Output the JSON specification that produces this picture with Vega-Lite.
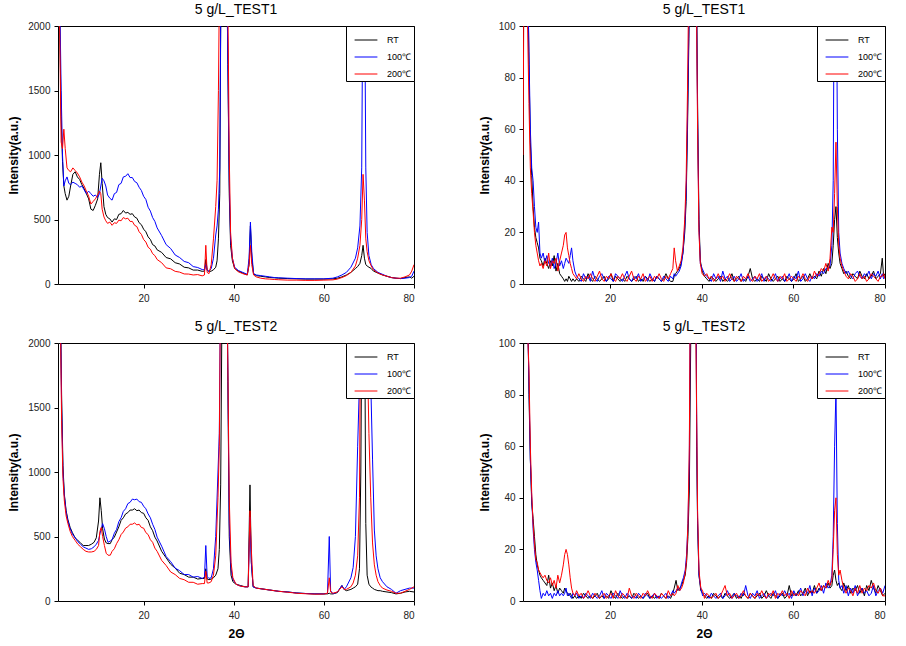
{
"$schema": "https://vega.github.io/schema/vega-lite/v6.json",
"padding": {"left": 7, "top": 2, "right": 5, "bottom": 5},
"config": {
 "font": "Liberation Sans",
 "view": {"stroke": "black", "strokeWidth": 1},
 "axis": {"grid": false, "domain": false, "ticks": true, "tickSize": 4, "tickColor": "black", "labelFontSize": 10, "labelColor": "#222222", "labelPadding": 4, "titleFontSize": 12, "titleFontWeight": "bold", "titleColor": "black", "titleFont": "Liberation Sans", "labelFont": "Liberation Sans"},
 "axisY": {"titlePadding": 7, "format": "d"},
 "axisX": {"titlePadding": 8, "labelPadding": 5},
 "title": {"fontSize": 14, "fontWeight": "normal", "color": "black", "offset": 4, "font": "Liberation Sans"},
 "legend": {"orient": "top-right", "offset": 0, "strokeColor": "black", "fillColor": "white", "padding": 2, "symbolOffset": 6, "symbolType": "stroke", "symbolSize": 520, "symbolStrokeWidth": 1, "labelFontSize": 9, "labelOffset": 9, "rowPadding": 0, "labelColor": "black", "labelFont": "Liberation Sans"}
},
"datasets": {
"t1": [
{"x":1.1,"RT":2600,"T100":2600,"T200":2600},
{"x":1.4,"RT":2000,"T100":2200,"T200":1900},
{"x":1.7,"RT":1300,"T100":1500,"T200":1100},
{"x":2.0,"RT":950,"T100":1000,"T200":1050},
{"x":2.3,"RT":760,"T100":760,"T200":1200},
{"x":2.6,"RT":700,"T100":800,"T200":1050},
{"x":3.0,"RT":650,"T100":830,"T200":900},
{"x":3.4,"RT":680,"T100":780,"T200":880},
{"x":3.8,"RT":760,"T100":770,"T200":870},
{"x":4.3,"RT":850,"T100":790,"T200":900},
{"x":4.8,"RT":870,"T100":780,"T200":880},
{"x":5.3,"RT":830,"T100":770,"T200":860},
{"x":5.8,"RT":810,"T100":750,"T200":830},
{"x":6.3,"RT":770,"T100":760,"T200":790},
{"x":6.8,"RT":740,"T100":730,"T200":760},
{"x":7.3,"RT":700,"T100":700,"T200":720},
{"x":7.8,"RT":660,"T100":720,"T200":680},
{"x":8.3,"RT":580,"T100":700,"T200":620},
{"x":8.8,"RT":570,"T100":680,"T200":640},
{"x":9.3,"RT":610,"T100":690,"T200":660},
{"x":9.8,"RT":660,"T100":670,"T200":690},
{"x":10.2,"RT":850,"T100":700,"T200":720},
{"x":10.5,"RT":940,"T100":760,"T200":700},
{"x":10.8,"RT":780,"T100":820,"T200":580},
{"x":11.2,"RT":600,"T100":800,"T200":520},
{"x":11.6,"RT":540,"T100":760,"T200":490},
{"x":12.0,"RT":515,"T100":690,"T200":470},
{"x":12.5,"RT":505,"T100":665,"T200":480},
{"x":13.0,"RT":480,"T100":650,"T200":455},
{"x":13.5,"RT":505,"T100":700,"T200":475},
{"x":14.0,"RT":500,"T100":710,"T200":470},
{"x":14.5,"RT":540,"T100":770,"T200":495},
{"x":15.0,"RT":545,"T100":780,"T200":490},
{"x":15.5,"RT":570,"T100":830,"T200":515},
{"x":16.0,"RT":550,"T100":835,"T200":505},
{"x":16.5,"RT":555,"T100":855,"T200":510},
{"x":17.0,"RT":540,"T100":825,"T200":485},
{"x":17.5,"RT":545,"T100":825,"T200":485},
{"x":18.0,"RT":520,"T100":795,"T200":455},
{"x":18.5,"RT":510,"T100":785,"T200":445},
{"x":19.0,"RT":475,"T100":750,"T200":405},
{"x":19.5,"RT":460,"T100":725,"T200":385},
{"x":20.0,"RT":425,"T100":680,"T200":345},
{"x":20.5,"RT":405,"T100":655,"T200":325},
{"x":21.0,"RT":365,"T100":595,"T200":285},
{"x":21.5,"RT":345,"T100":565,"T200":270},
{"x":22.0,"RT":305,"T100":515,"T200":235},
{"x":22.5,"RT":295,"T100":485,"T200":220},
{"x":23.0,"RT":265,"T100":435,"T200":190},
{"x":24.0,"RT":245,"T100":375,"T200":165},
{"x":25.0,"RT":205,"T100":305,"T200":125},
{"x":26.0,"RT":195,"T100":275,"T200":118},
{"x":27.0,"RT":165,"T100":225,"T200":98},
{"x":28.0,"RT":155,"T100":205,"T200":92},
{"x":29.0,"RT":130,"T100":175,"T200":78},
{"x":30.0,"RT":125,"T100":165,"T200":77},
{"x":31.0,"RT":108,"T100":135,"T200":70},
{"x":32.0,"RT":108,"T100":128,"T200":73},
{"x":33.0,"RT":98,"T100":112,"T200":63},
{"x":33.5,"RT":100,"T100":110,"T200":70},
{"x":33.8,"RT":190,"T100":150,"T200":300},
{"x":34.1,"RT":110,"T100":105,"T200":90},
{"x":34.5,"RT":95,"T100":100,"T200":80},
{"x":35.0,"RT":100,"T100":120,"T200":150},
{"x":35.5,"RT":110,"T100":200,"T200":350},
{"x":36.0,"RT":130,"T100":380,"T200":600},
{"x":36.3,"RT":180,"T100":450,"T200":800},
{"x":36.6,"RT":350,"T100":580,"T200":1500},
{"x":36.9,"RT":700,"T100":900,"T200":2600},
{"x":37.2,"RT":2600,"T100":2600,"T200":2800},
{"x":37.6,"RT":2800,"T100":2800,"T200":2800},
{"x":38.0,"RT":2400,"T100":2500,"T200":2600},
{"x":38.4,"RT":2600,"T100":2600,"T200":2700},
{"x":38.7,"RT":1700,"T100":1700,"T200":2200},
{"x":39.0,"RT":700,"T100":800,"T200":1000},
{"x":39.3,"RT":300,"T100":350,"T200":400},
{"x":39.7,"RT":180,"T100":200,"T200":200},
{"x":40.2,"RT":120,"T100":130,"T200":120},
{"x":41.0,"RT":100,"T100":105,"T200":95},
{"x":42.0,"RT":85,"T100":90,"T200":80},
{"x":43.0,"RT":70,"T100":75,"T200":70},
{"x":43.4,"RT":150,"T100":200,"T200":150},
{"x":43.7,"RT":450,"T100":480,"T200":300},
{"x":44.0,"RT":200,"T100":250,"T200":150},
{"x":44.4,"RT":80,"T100":80,"T200":70},
{"x":45.0,"RT":65,"T100":70,"T200":55},
{"x":46.0,"RT":60,"T100":65,"T200":45},
{"x":47.0,"RT":55,"T100":60,"T200":40},
{"x":48.0,"RT":50,"T100":55,"T200":38},
{"x":49.0,"RT":48,"T100":50,"T200":35},
{"x":50.0,"RT":45,"T100":48,"T200":33},
{"x":52.0,"RT":42,"T100":45,"T200":30},
{"x":54.0,"RT":40,"T100":42,"T200":30},
{"x":56.0,"RT":38,"T100":40,"T200":28},
{"x":58.0,"RT":38,"T100":40,"T200":28},
{"x":60.0,"RT":38,"T100":40,"T200":30},
{"x":62.0,"RT":40,"T100":45,"T200":32},
{"x":63.0,"RT":45,"T100":55,"T200":38},
{"x":64.0,"RT":55,"T100":70,"T200":50},
{"x":65.0,"RT":70,"T100":90,"T200":65},
{"x":66.0,"RT":90,"T100":130,"T200":90},
{"x":67.0,"RT":120,"T100":200,"T200":140},
{"x":67.5,"RT":135,"T100":280,"T200":200},
{"x":68.0,"RT":160,"T100":450,"T200":300},
{"x":68.4,"RT":220,"T100":900,"T200":500},
{"x":68.7,"RT":300,"T100":2600,"T200":850},
{"x":69.0,"RT":200,"T100":2600,"T200":650},
{"x":69.3,"RT":150,"T100":900,"T200":350},
{"x":69.6,"RT":140,"T100":400,"T200":250},
{"x":70.0,"RT":130,"T100":220,"T200":180},
{"x":70.5,"RT":120,"T100":150,"T200":140},
{"x":71.0,"RT":100,"T100":120,"T200":110},
{"x":72.0,"RT":85,"T100":90,"T200":85},
{"x":73.0,"RT":70,"T100":75,"T200":70},
{"x":74.0,"RT":60,"T100":60,"T200":60},
{"x":75.0,"RT":50,"T100":50,"T200":50},
{"x":76.0,"RT":45,"T100":45,"T200":45},
{"x":77.0,"RT":42,"T100":42,"T200":45},
{"x":78.0,"RT":50,"T100":45,"T200":55},
{"x":79.0,"RT":55,"T100":50,"T200":70},
{"x":79.5,"RT":45,"T100":60,"T200":100},
{"x":80.0,"RT":60,"T100":100,"T200":150}
],
"t1z": [
{"x":1.0,"RT":70,"T100":100,"T200":50},
{"x":1.3,"RT":150,"T100":150,"T200":150},
{"x":1.7,"RT":150,"T100":150,"T200":140},
{"x":2.0,"RT":130,"T100":120,"T200":100},
{"x":2.3,"RT":85,"T100":90,"T200":70},
{"x":2.6,"RT":55,"T100":60,"T200":45},
{"x":2.9,"RT":42,"T100":45,"T200":35},
{"x":3.2,"RT":30,"T100":40,"T200":28},
{"x":3.5,"RT":22,"T100":30,"T200":20},
{"x":3.8,"RT":18,"T100":22,"T200":15},
{"x":4.1,"RT":16,"T100":20,"T200":12},
{"x":4.4,"RT":14,"T100":24,"T200":9},
{"x":4.7,"RT":10,"T100":12,"T200":7},
{"x":5.0,"RT":9,"T100":10,"T200":8},
{"x":5.4,"RT":7,"T100":12,"T200":6},
{"x":5.8,"RT":10,"T100":8,"T200":9},
{"x":6.2,"RT":8,"T100":11,"T200":7},
{"x":6.6,"RT":6,"T100":8,"T200":12},
{"x":7.0,"RT":9,"T100":7,"T200":6},
{"x":7.4,"RT":7,"T100":10,"T200":9},
{"x":7.8,"RT":11,"T100":6,"T200":8},
{"x":8.2,"RT":5,"T100":8,"T200":10},
{"x":8.6,"RT":8,"T100":12,"T200":5},
{"x":9.0,"RT":4,"T100":7,"T200":9},
{"x":9.4,"RT":3,"T100":9,"T200":12},
{"x":9.8,"RT":2,"T100":6,"T200":15},
{"x":10.1,"RT":1,"T100":8,"T200":19},
{"x":10.4,"RT":2,"T100":10,"T200":20},
{"x":10.7,"RT":1,"T100":9,"T200":14},
{"x":11.0,"RT":3,"T100":8,"T200":11},
{"x":11.3,"RT":2,"T100":11,"T200":8},
{"x":11.6,"RT":1,"T100":14,"T200":6},
{"x":11.9,"RT":2,"T100":9,"T200":4},
{"x":12.3,"RT":1,"T100":5,"T200":3},
{"x":12.7,"RT":2,"T100":3,"T200":2},
{"x":13.2,"RT":1,"T100":2,"T200":4},
{"x":13.7,"RT":3,"T100":1,"T200":2},
{"x":14.2,"RT":2,"T100":4,"T200":1},
{"x":14.7,"RT":1,"T100":2,"T200":3},
{"x":15.2,"RT":4,"T100":3,"T200":2},
{"x":15.7,"RT":2,"T100":1,"T200":4},
{"x":16.2,"RT":1,"T100":5,"T200":2},
{"x":16.7,"RT":3,"T100":2,"T200":1},
{"x":17.2,"RT":2,"T100":1,"T200":3},
{"x":17.7,"RT":1,"T100":3,"T200":5},
{"x":18.2,"RT":2,"T100":4,"T200":2},
{"x":18.7,"RT":3,"T100":2,"T200":1},
{"x":19.2,"RT":1,"T100":1,"T200":3},
{"x":19.7,"RT":2,"T100":3,"T200":2},
{"x":20.2,"RT":4,"T100":2,"T200":4},
{"x":20.7,"RT":1,"T100":1,"T200":2},
{"x":21.2,"RT":3,"T100":4,"T200":1},
{"x":21.7,"RT":2,"T100":3,"T200":3},
{"x":22.2,"RT":1,"T100":2,"T200":2},
{"x":22.7,"RT":2,"T100":1,"T200":4},
{"x":23.2,"RT":1,"T100":3,"T200":2},
{"x":23.7,"RT":3,"T100":5,"T200":1},
{"x":24.2,"RT":2,"T100":2,"T200":3},
{"x":24.7,"RT":1,"T100":1,"T200":5},
{"x":25.2,"RT":2,"T100":3,"T200":2},
{"x":25.7,"RT":3,"T100":2,"T200":1},
{"x":26.2,"RT":1,"T100":4,"T200":3},
{"x":26.7,"RT":2,"T100":1,"T200":2},
{"x":27.2,"RT":1,"T100":2,"T200":4},
{"x":27.7,"RT":3,"T100":3,"T200":1},
{"x":28.2,"RT":2,"T100":1,"T200":2},
{"x":28.7,"RT":1,"T100":4,"T200":3},
{"x":29.2,"RT":2,"T100":2,"T200":1},
{"x":29.7,"RT":1,"T100":1,"T200":3},
{"x":30.2,"RT":3,"T100":3,"T200":2},
{"x":30.7,"RT":2,"T100":2,"T200":4},
{"x":31.2,"RT":1,"T100":1,"T200":2},
{"x":31.7,"RT":2,"T100":3,"T200":1},
{"x":32.2,"RT":4,"T100":2,"T200":3},
{"x":32.7,"RT":2,"T100":1,"T200":2},
{"x":33.2,"RT":1,"T100":3,"T200":4},
{"x":33.7,"RT":1,"T100":2,"T200":6},
{"x":34.0,"RT":3,"T100":4,"T200":14},
{"x":34.3,"RT":4,"T100":3,"T200":9},
{"x":34.7,"RT":5,"T100":4,"T200":5},
{"x":35.1,"RT":6,"T100":5,"T200":7},
{"x":35.5,"RT":8,"T100":7,"T200":9},
{"x":35.9,"RT":12,"T100":12,"T200":14},
{"x":36.3,"RT":20,"T100":22,"T200":25},
{"x":36.6,"RT":32,"T100":35,"T200":40},
{"x":36.9,"RT":60,"T100":65,"T200":75},
{"x":37.2,"RT":95,"T100":100,"T200":120},
{"x":37.6,"RT":150,"T100":150,"T200":150},
{"x":38.0,"RT":150,"T100":150,"T200":150},
{"x":38.4,"RT":150,"T100":150,"T200":150},
{"x":38.8,"RT":130,"T100":125,"T200":120},
{"x":39.1,"RT":70,"T100":65,"T200":60},
{"x":39.4,"RT":25,"T100":22,"T200":20},
{"x":39.7,"RT":9,"T100":8,"T200":8},
{"x":40.1,"RT":5,"T100":6,"T200":4},
{"x":40.6,"RT":3,"T100":4,"T200":3},
{"x":41.1,"RT":2,"T100":3,"T200":4},
{"x":41.6,"RT":1,"T100":2,"T200":2},
{"x":42.1,"RT":3,"T100":1,"T200":3},
{"x":42.6,"RT":2,"T100":4,"T200":1},
{"x":43.1,"RT":1,"T100":2,"T200":2},
{"x":43.6,"RT":2,"T100":3,"T200":4},
{"x":44.1,"RT":3,"T100":1,"T200":2},
{"x":44.6,"RT":1,"T100":5,"T200":3},
{"x":45.1,"RT":2,"T100":2,"T200":1},
{"x":45.6,"RT":1,"T100":3,"T200":2},
{"x":46.1,"RT":2,"T100":1,"T200":4},
{"x":46.6,"RT":4,"T100":2,"T200":2},
{"x":47.1,"RT":1,"T100":3,"T200":1},
{"x":47.6,"RT":2,"T100":1,"T200":3},
{"x":48.1,"RT":3,"T100":2,"T200":2},
{"x":48.6,"RT":1,"T100":4,"T200":1},
{"x":49.1,"RT":2,"T100":1,"T200":3},
{"x":49.6,"RT":1,"T100":2,"T200":2},
{"x":50.1,"RT":3,"T100":3,"T200":4},
{"x":50.6,"RT":6,"T100":1,"T200":2},
{"x":51.1,"RT":2,"T100":2,"T200":1},
{"x":51.6,"RT":1,"T100":3,"T200":3},
{"x":52.1,"RT":2,"T100":1,"T200":2},
{"x":52.6,"RT":1,"T100":2,"T200":4},
{"x":53.1,"RT":3,"T100":4,"T200":1},
{"x":53.6,"RT":2,"T100":1,"T200":2},
{"x":54.1,"RT":1,"T100":3,"T200":3},
{"x":54.6,"RT":4,"T100":2,"T200":1},
{"x":55.1,"RT":2,"T100":1,"T200":2},
{"x":55.6,"RT":1,"T100":2,"T200":4},
{"x":56.1,"RT":2,"T100":4,"T200":2},
{"x":56.6,"RT":3,"T100":1,"T200":1},
{"x":57.1,"RT":1,"T100":2,"T200":3},
{"x":57.6,"RT":2,"T100":3,"T200":2},
{"x":58.1,"RT":1,"T100":1,"T200":4},
{"x":58.6,"RT":3,"T100":2,"T200":1},
{"x":59.1,"RT":2,"T100":4,"T200":2},
{"x":59.6,"RT":1,"T100":1,"T200":3},
{"x":60.1,"RT":2,"T100":3,"T200":2},
{"x":60.6,"RT":4,"T100":2,"T200":1},
{"x":61.1,"RT":1,"T100":5,"T200":3},
{"x":61.6,"RT":2,"T100":1,"T200":2},
{"x":62.1,"RT":3,"T100":2,"T200":4},
{"x":62.6,"RT":1,"T100":4,"T200":2},
{"x":63.1,"RT":2,"T100":2,"T200":1},
{"x":63.6,"RT":4,"T100":1,"T200":3},
{"x":64.1,"RT":2,"T100":3,"T200":2},
{"x":64.6,"RT":3,"T100":2,"T200":5},
{"x":65.1,"RT":2,"T100":4,"T200":3},
{"x":65.6,"RT":5,"T100":3,"T200":4},
{"x":66.1,"RT":3,"T100":5,"T200":6},
{"x":66.6,"RT":6,"T100":4,"T200":5},
{"x":67.1,"RT":4,"T100":6,"T200":8},
{"x":67.6,"RT":8,"T100":6,"T200":5},
{"x":68.0,"RT":6,"T100":7,"T200":10},
{"x":68.4,"RT":8,"T100":15,"T200":22},
{"x":68.7,"RT":15,"T100":40,"T200":20},
{"x":69.0,"RT":25,"T100":150,"T200":35},
{"x":69.3,"RT":30,"T100":150,"T200":55},
{"x":69.6,"RT":18,"T100":60,"T200":30},
{"x":69.9,"RT":12,"T100":20,"T200":15},
{"x":70.2,"RT":8,"T100":12,"T200":10},
{"x":70.6,"RT":6,"T100":8,"T200":7},
{"x":71.0,"RT":4,"T100":6,"T200":5},
{"x":71.5,"RT":5,"T100":4,"T200":3},
{"x":72.0,"RT":3,"T100":5,"T200":2},
{"x":72.5,"RT":2,"T100":3,"T200":4},
{"x":73.0,"RT":4,"T100":2,"T200":3},
{"x":73.5,"RT":3,"T100":4,"T200":1},
{"x":74.0,"RT":2,"T100":5,"T200":2},
{"x":74.5,"RT":5,"T100":3,"T200":4},
{"x":75.0,"RT":3,"T100":2,"T200":2},
{"x":75.5,"RT":2,"T100":4,"T200":3},
{"x":76.0,"RT":4,"T100":3,"T200":1},
{"x":76.5,"RT":2,"T100":5,"T200":2},
{"x":77.0,"RT":3,"T100":2,"T200":4},
{"x":77.5,"RT":5,"T100":4,"T200":3},
{"x":78.0,"RT":2,"T100":3,"T200":2},
{"x":78.5,"RT":3,"T100":5,"T200":1},
{"x":79.0,"RT":4,"T100":2,"T200":3},
{"x":79.4,"RT":10,"T100":4,"T200":3},
{"x":79.7,"RT":3,"T100":2,"T200":4},
{"x":80.0,"RT":4,"T100":3,"T200":2}
],
"t2": [
{"x":1.1,"RT":2600,"T100":2600,"T200":2600},
{"x":1.5,"RT":2400,"T100":2400,"T200":2300},
{"x":1.8,"RT":1600,"T100":1500,"T200":1400},
{"x":2.1,"RT":1050,"T100":1000,"T200":950},
{"x":2.4,"RT":830,"T100":820,"T200":780},
{"x":2.8,"RT":700,"T100":690,"T200":660},
{"x":3.2,"RT":630,"T100":620,"T200":600},
{"x":3.7,"RT":570,"T100":560,"T200":540},
{"x":4.2,"RT":530,"T100":520,"T200":500},
{"x":4.8,"RT":490,"T100":490,"T200":470},
{"x":5.4,"RT":470,"T100":460,"T200":440},
{"x":6.0,"RT":450,"T100":440,"T200":420},
{"x":6.6,"RT":430,"T100":420,"T200":400},
{"x":7.2,"RT":430,"T100":410,"T200":385},
{"x":7.8,"RT":430,"T100":400,"T200":380},
{"x":8.4,"RT":440,"T100":405,"T200":380},
{"x":9.0,"RT":455,"T100":420,"T200":385},
{"x":9.5,"RT":490,"T100":440,"T200":400},
{"x":10.0,"RT":620,"T100":470,"T200":430},
{"x":10.3,"RT":800,"T100":520,"T200":540},
{"x":10.6,"RT":700,"T100":560,"T200":570},
{"x":10.9,"RT":560,"T100":600,"T200":500},
{"x":11.3,"RT":480,"T100":560,"T200":430},
{"x":11.7,"RT":450,"T100":500,"T200":370},
{"x":12.1,"RT":445,"T100":455,"T200":355},
{"x":12.6,"RT":445,"T100":465,"T200":355},
{"x":13.0,"RT":475,"T100":475,"T200":385},
{"x":13.5,"RT":495,"T100":525,"T200":405},
{"x":14.0,"RT":535,"T100":555,"T200":445},
{"x":14.5,"RT":575,"T100":615,"T200":475},
{"x":15.0,"RT":625,"T100":645,"T200":515},
{"x":15.5,"RT":645,"T100":695,"T200":535},
{"x":16.0,"RT":675,"T100":715,"T200":565},
{"x":16.5,"RT":685,"T100":755,"T200":575},
{"x":17.0,"RT":705,"T100":765,"T200":595},
{"x":17.5,"RT":705,"T100":790,"T200":595},
{"x":18.0,"RT":715,"T100":785,"T200":605},
{"x":18.5,"RT":700,"T100":790,"T200":590},
{"x":19.0,"RT":705,"T100":770,"T200":595},
{"x":19.5,"RT":685,"T100":765,"T200":570},
{"x":20.0,"RT":680,"T100":735,"T200":565},
{"x":20.5,"RT":645,"T100":715,"T200":530},
{"x":21.0,"RT":625,"T100":675,"T200":515},
{"x":21.5,"RT":575,"T100":645,"T200":475},
{"x":22.0,"RT":545,"T100":595,"T200":455},
{"x":22.5,"RT":495,"T100":555,"T200":410},
{"x":23.0,"RT":465,"T100":495,"T200":385},
{"x":24.0,"RT":385,"T100":425,"T200":315},
{"x":25.0,"RT":335,"T100":345,"T200":275},
{"x":26.0,"RT":285,"T100":305,"T200":225},
{"x":27.0,"RT":255,"T100":255,"T200":205},
{"x":28.0,"RT":215,"T100":235,"T200":175},
{"x":29.0,"RT":205,"T100":205,"T200":165},
{"x":30.0,"RT":185,"T100":205,"T200":145},
{"x":31.0,"RT":185,"T100":185,"T200":145},
{"x":32.0,"RT":170,"T100":190,"T200":130},
{"x":33.0,"RT":175,"T100":175,"T200":135},
{"x":33.5,"RT":175,"T100":185,"T200":135},
{"x":33.8,"RT":250,"T100":430,"T200":230},
{"x":34.1,"RT":170,"T100":190,"T200":140},
{"x":34.5,"RT":165,"T100":175,"T200":140},
{"x":35.0,"RT":170,"T100":180,"T200":150},
{"x":35.5,"RT":180,"T100":250,"T200":200},
{"x":36.0,"RT":200,"T100":500,"T200":350},
{"x":36.5,"RT":250,"T100":1000,"T200":800},
{"x":36.8,"RT":400,"T100":1300,"T200":1200},
{"x":37.1,"RT":900,"T100":2600,"T200":2600},
{"x":37.5,"RT":2800,"T100":2800,"T200":2800},
{"x":38.0,"RT":2600,"T100":2600,"T200":2600},
{"x":38.4,"RT":2800,"T100":2800,"T200":2800},
{"x":38.7,"RT":1700,"T100":1750,"T200":1800},
{"x":39.0,"RT":500,"T100":600,"T200":800},
{"x":39.4,"RT":200,"T100":250,"T200":300},
{"x":39.8,"RT":150,"T100":170,"T200":180},
{"x":40.5,"RT":130,"T100":130,"T200":130},
{"x":41.5,"RT":120,"T100":115,"T200":115},
{"x":42.5,"RT":110,"T100":110,"T200":110},
{"x":43.2,"RT":110,"T100":110,"T200":110},
{"x":43.6,"RT":900,"T100":650,"T200":700},
{"x":43.9,"RT":300,"T100":300,"T200":400},
{"x":44.3,"RT":110,"T100":110,"T200":120},
{"x":45.0,"RT":100,"T100":100,"T200":100},
{"x":46.0,"RT":95,"T100":95,"T200":95},
{"x":48.0,"RT":85,"T100":85,"T200":85},
{"x":50.0,"RT":75,"T100":75,"T200":75},
{"x":52.0,"RT":70,"T100":70,"T200":68},
{"x":54.0,"RT":62,"T100":62,"T200":60},
{"x":56.0,"RT":58,"T100":58,"T200":56},
{"x":58.0,"RT":55,"T100":55,"T200":53},
{"x":60.0,"RT":55,"T100":55,"T200":54},
{"x":60.8,"RT":55,"T100":60,"T200":60},
{"x":61.2,"RT":60,"T100":500,"T200":180},
{"x":61.5,"RT":55,"T100":80,"T200":70},
{"x":62.0,"RT":55,"T100":55,"T200":60},
{"x":63.0,"RT":65,"T100":70,"T200":70},
{"x":64.0,"RT":120,"T100":120,"T200":110},
{"x":64.5,"RT":90,"T100":90,"T200":90},
{"x":65.0,"RT":80,"T100":110,"T200":90},
{"x":66.0,"RT":90,"T100":180,"T200":110},
{"x":66.5,"RT":100,"T100":260,"T200":140},
{"x":67.0,"RT":110,"T100":500,"T200":200},
{"x":67.5,"RT":130,"T100":1200,"T200":350},
{"x":67.9,"RT":250,"T100":1700,"T200":800},
{"x":68.2,"RT":1000,"T100":2600,"T200":2600},
{"x":68.5,"RT":2600,"T100":2600,"T200":2600},
{"x":69.0,"RT":2600,"T100":2600,"T200":2600},
{"x":69.3,"RT":600,"T100":2600,"T200":2600},
{"x":69.6,"RT":200,"T100":2600,"T200":2000},
{"x":70.0,"RT":130,"T100":2200,"T200":1300},
{"x":70.4,"RT":110,"T100":1700,"T200":800},
{"x":70.8,"RT":100,"T100":1100,"T200":450},
{"x":71.2,"RT":90,"T100":550,"T200":280},
{"x":71.6,"RT":85,"T100":350,"T200":200},
{"x":72.0,"RT":80,"T100":250,"T200":150},
{"x":72.5,"RT":80,"T100":180,"T200":120},
{"x":73.0,"RT":75,"T100":150,"T200":100},
{"x":74.0,"RT":70,"T100":110,"T200":85},
{"x":75.0,"RT":65,"T100":90,"T200":75},
{"x":76.0,"RT":55,"T100":60,"T200":60},
{"x":77.0,"RT":60,"T100":80,"T200":60},
{"x":78.0,"RT":70,"T100":90,"T200":75},
{"x":79.0,"RT":75,"T100":100,"T200":90},
{"x":80.0,"RT":70,"T100":100,"T200":110}
],
"t2z": [
{"x":1.0,"RT":50,"T100":150,"T200":150},
{"x":1.3,"RT":150,"T100":150,"T200":150},
{"x":1.7,"RT":150,"T100":150,"T200":150},
{"x":2.0,"RT":120,"T100":110,"T200":105},
{"x":2.3,"RT":80,"T100":85,"T200":90},
{"x":2.6,"RT":55,"T100":55,"T200":60},
{"x":2.9,"RT":38,"T100":40,"T200":42},
{"x":3.2,"RT":32,"T100":28,"T200":30},
{"x":3.5,"RT":25,"T100":20,"T200":22},
{"x":3.8,"RT":18,"T100":15,"T200":16},
{"x":4.1,"RT":14,"T100":12,"T200":15},
{"x":4.4,"RT":12,"T100":8,"T200":12},
{"x":4.7,"RT":10,"T100":4,"T200":11},
{"x":5.0,"RT":9,"T100":1,"T200":10},
{"x":5.4,"RT":8,"T100":3,"T200":9},
{"x":5.8,"RT":7,"T100":2,"T200":10},
{"x":6.2,"RT":6,"T100":4,"T200":8},
{"x":6.6,"RT":10,"T100":2,"T200":7},
{"x":7.0,"RT":5,"T100":3,"T200":9},
{"x":7.4,"RT":7,"T100":1,"T200":6},
{"x":7.8,"RT":4,"T100":3,"T200":8},
{"x":8.2,"RT":6,"T100":2,"T200":5},
{"x":8.6,"RT":3,"T100":4,"T200":10},
{"x":9.0,"RT":5,"T100":2,"T200":7},
{"x":9.4,"RT":4,"T100":3,"T200":10},
{"x":9.8,"RT":3,"T100":2,"T200":14},
{"x":10.1,"RT":5,"T100":3,"T200":18},
{"x":10.4,"RT":4,"T100":5,"T200":20},
{"x":10.7,"RT":3,"T100":2,"T200":18},
{"x":11.0,"RT":2,"T100":3,"T200":14},
{"x":11.3,"RT":3,"T100":2,"T200":9},
{"x":11.6,"RT":2,"T100":1,"T200":5},
{"x":11.9,"RT":1,"T100":3,"T200":3},
{"x":12.3,"RT":2,"T100":2,"T200":2},
{"x":12.7,"RT":1,"T100":3,"T200":4},
{"x":13.2,"RT":2,"T100":1,"T200":2},
{"x":13.7,"RT":1,"T100":2,"T200":3},
{"x":14.2,"RT":3,"T100":1,"T200":1},
{"x":14.7,"RT":2,"T100":3,"T200":2},
{"x":15.2,"RT":1,"T100":2,"T200":4},
{"x":15.7,"RT":2,"T100":1,"T200":2},
{"x":16.2,"RT":1,"T100":3,"T200":1},
{"x":16.7,"RT":2,"T100":2,"T200":3},
{"x":17.2,"RT":3,"T100":1,"T200":2},
{"x":17.7,"RT":1,"T100":2,"T200":1},
{"x":18.2,"RT":2,"T100":4,"T200":2},
{"x":18.7,"RT":1,"T100":1,"T200":3},
{"x":19.2,"RT":2,"T100":3,"T200":1},
{"x":19.7,"RT":1,"T100":2,"T200":2},
{"x":20.2,"RT":4,"T100":1,"T200":3},
{"x":20.7,"RT":2,"T100":3,"T200":1},
{"x":21.2,"RT":1,"T100":2,"T200":4},
{"x":21.7,"RT":3,"T100":1,"T200":2},
{"x":22.2,"RT":2,"T100":4,"T200":1},
{"x":22.7,"RT":1,"T100":2,"T200":3},
{"x":23.2,"RT":2,"T100":1,"T200":2},
{"x":23.7,"RT":1,"T100":3,"T200":1},
{"x":24.2,"RT":2,"T100":2,"T200":5},
{"x":24.7,"RT":1,"T100":1,"T200":2},
{"x":25.2,"RT":3,"T100":2,"T200":1},
{"x":25.7,"RT":2,"T100":1,"T200":3},
{"x":26.2,"RT":1,"T100":3,"T200":2},
{"x":26.7,"RT":2,"T100":2,"T200":1},
{"x":27.2,"RT":1,"T100":1,"T200":3},
{"x":27.7,"RT":2,"T100":3,"T200":2},
{"x":28.2,"RT":3,"T100":2,"T200":4},
{"x":28.7,"RT":1,"T100":1,"T200":2},
{"x":29.2,"RT":2,"T100":2,"T200":1},
{"x":29.7,"RT":1,"T100":3,"T200":3},
{"x":30.2,"RT":2,"T100":1,"T200":2},
{"x":30.7,"RT":1,"T100":2,"T200":1},
{"x":31.2,"RT":3,"T100":1,"T200":3},
{"x":31.7,"RT":2,"T100":2,"T200":2},
{"x":32.2,"RT":1,"T100":3,"T200":1},
{"x":32.7,"RT":2,"T100":1,"T200":4},
{"x":33.2,"RT":1,"T100":2,"T200":2},
{"x":33.7,"RT":3,"T100":4,"T200":3},
{"x":34.0,"RT":5,"T100":3,"T200":2},
{"x":34.4,"RT":8,"T100":4,"T200":3},
{"x":34.8,"RT":4,"T100":5,"T200":6},
{"x":35.2,"RT":5,"T100":4,"T200":4},
{"x":35.6,"RT":6,"T100":7,"T200":5},
{"x":36.0,"RT":8,"T100":9,"T200":7},
{"x":36.4,"RT":10,"T100":12,"T200":11},
{"x":36.7,"RT":15,"T100":18,"T200":16},
{"x":37.0,"RT":25,"T100":30,"T200":30},
{"x":37.3,"RT":43,"T100":55,"T200":60},
{"x":37.6,"RT":100,"T100":150,"T200":150},
{"x":38.0,"RT":150,"T100":150,"T200":150},
{"x":38.4,"RT":150,"T100":150,"T200":150},
{"x":38.7,"RT":150,"T100":150,"T200":110},
{"x":38.9,"RT":60,"T100":70,"T200":72},
{"x":39.1,"RT":30,"T100":32,"T200":35},
{"x":39.4,"RT":10,"T100":10,"T200":12},
{"x":39.8,"RT":4,"T100":5,"T200":5},
{"x":40.2,"RT":3,"T100":2,"T200":4},
{"x":40.6,"RT":2,"T100":3,"T200":1},
{"x":41.1,"RT":1,"T100":2,"T200":3},
{"x":41.6,"RT":2,"T100":1,"T200":2},
{"x":42.1,"RT":1,"T100":3,"T200":1},
{"x":42.6,"RT":3,"T100":2,"T200":2},
{"x":43.1,"RT":2,"T100":1,"T200":3},
{"x":43.6,"RT":1,"T100":2,"T200":1},
{"x":44.1,"RT":2,"T100":3,"T200":2},
{"x":44.6,"RT":1,"T100":1,"T200":4},
{"x":45.1,"RT":3,"T100":2,"T200":6},
{"x":45.6,"RT":2,"T100":4,"T200":2},
{"x":46.1,"RT":1,"T100":2,"T200":3},
{"x":46.6,"RT":2,"T100":1,"T200":1},
{"x":47.1,"RT":3,"T100":3,"T200":2},
{"x":47.6,"RT":1,"T100":2,"T200":3},
{"x":48.1,"RT":2,"T100":1,"T200":1},
{"x":48.6,"RT":1,"T100":3,"T200":2},
{"x":49.1,"RT":3,"T100":2,"T200":4},
{"x":49.6,"RT":2,"T100":6,"T200":2},
{"x":50.1,"RT":1,"T100":2,"T200":1},
{"x":50.6,"RT":3,"T100":1,"T200":3},
{"x":51.1,"RT":2,"T100":3,"T200":2},
{"x":51.6,"RT":1,"T100":2,"T200":1},
{"x":52.1,"RT":2,"T100":4,"T200":3},
{"x":52.6,"RT":3,"T100":1,"T200":2},
{"x":53.1,"RT":1,"T100":2,"T200":4},
{"x":53.6,"RT":2,"T100":3,"T200":2},
{"x":54.1,"RT":4,"T100":1,"T200":1},
{"x":54.6,"RT":2,"T100":2,"T200":3},
{"x":55.1,"RT":1,"T100":3,"T200":2},
{"x":55.6,"RT":3,"T100":2,"T200":4},
{"x":56.1,"RT":2,"T100":4,"T200":1},
{"x":56.6,"RT":1,"T100":1,"T200":3},
{"x":57.1,"RT":2,"T100":3,"T200":2},
{"x":57.6,"RT":3,"T100":2,"T200":4},
{"x":58.1,"RT":1,"T100":4,"T200":2},
{"x":58.6,"RT":2,"T100":2,"T200":3},
{"x":59.1,"RT":6,"T100":3,"T200":1},
{"x":59.6,"RT":2,"T100":1,"T200":4},
{"x":60.1,"RT":3,"T100":4,"T200":2},
{"x":60.6,"RT":2,"T100":2,"T200":3},
{"x":61.1,"RT":4,"T100":3,"T200":2},
{"x":61.6,"RT":2,"T100":5,"T200":4},
{"x":62.1,"RT":3,"T100":2,"T200":3},
{"x":62.6,"RT":5,"T100":4,"T200":2},
{"x":63.1,"RT":2,"T100":3,"T200":5},
{"x":63.6,"RT":4,"T100":6,"T200":3},
{"x":64.1,"RT":3,"T100":2,"T200":4},
{"x":64.6,"RT":6,"T100":5,"T200":3},
{"x":65.1,"RT":3,"T100":3,"T200":5},
{"x":65.6,"RT":5,"T100":4,"T200":7},
{"x":66.1,"RT":4,"T100":6,"T200":4},
{"x":66.6,"RT":6,"T100":3,"T200":6},
{"x":67.1,"RT":5,"T100":7,"T200":5},
{"x":67.6,"RT":7,"T100":5,"T200":8},
{"x":68.0,"RT":5,"T100":6,"T200":6},
{"x":68.4,"RT":6,"T100":10,"T200":8},
{"x":68.7,"RT":10,"T100":25,"T200":20},
{"x":69.0,"RT":12,"T100":60,"T200":35},
{"x":69.3,"RT":8,"T100":82,"T200":40},
{"x":69.6,"RT":6,"T100":30,"T200":18},
{"x":69.9,"RT":7,"T100":8,"T200":10},
{"x":70.2,"RT":5,"T100":5,"T200":12},
{"x":70.6,"RT":4,"T100":6,"T200":8},
{"x":71.0,"RT":7,"T100":3,"T200":5},
{"x":71.5,"RT":4,"T100":6,"T200":3},
{"x":72.0,"RT":6,"T100":2,"T200":5},
{"x":72.5,"RT":3,"T100":5,"T200":4},
{"x":73.0,"RT":5,"T100":3,"T200":2},
{"x":73.5,"RT":4,"T100":6,"T200":5},
{"x":74.0,"RT":6,"T100":2,"T200":3},
{"x":74.5,"RT":3,"T100":4,"T200":6},
{"x":75.0,"RT":5,"T100":5,"T200":3},
{"x":75.5,"RT":2,"T100":3,"T200":5},
{"x":76.0,"RT":6,"T100":4,"T200":4},
{"x":76.5,"RT":4,"T100":2,"T200":6},
{"x":77.0,"RT":8,"T100":3,"T200":5},
{"x":77.5,"RT":5,"T100":6,"T200":7},
{"x":78.0,"RT":3,"T100":2,"T200":4},
{"x":78.5,"RT":6,"T100":4,"T200":3},
{"x":79.0,"RT":4,"T100":5,"T200":5},
{"x":79.5,"RT":2,"T100":3,"T200":2},
{"x":80.0,"RT":3,"T100":6,"T200":2}
]
},
"columns": 2,
"spacing": {"row": 59, "column": 109},
"bounds": "flush",
"resolve": {"scale": {"color": "shared", "x": "independent", "y": "independent"}, "legend": {"color": "independent"}},
"concat": [
{
 "width": 356, "height": 258,
 "title": "5 g/L_TEST1",
 "data": {"name": "t1"},
 "transform": [{"fold": ["RT", "T100", "T200"], "as": ["s", "y"]}],
 "mark": {"type": "line", "clip": true, "strokeWidth": 1},
 "encoding": {
  "x": {"field": "x", "type": "quantitative", "scale": {"domain": [1, 80], "nice": false, "zero": false}, "axis": {"values": [20, 40, 60, 80], "title": null}},
  "y": {"field": "y", "type": "quantitative", "scale": {"domain": [0, 2000], "nice": false}, "axis": {"values": [0, 500, 1000, 1500, 2000], "title": "Intensity(a.u.)"}},
  "color": {"field": "s", "type": "nominal", "scale": {"domain": ["RT", "T100", "T200"], "range": ["#000000", "#0000ff", "#ff0000"]}, "legend": {"title": null, "labelExpr": "datum.label == 'T100' ? '100℃\u00a0\u00a0\u00a0\u00a0' : datum.label == 'T200' ? '200℃\u00a0\u00a0\u00a0\u00a0' : 'RT'"}}
 }
},
{
 "width": 362, "height": 258,
 "title": "5 g/L_TEST1",
 "data": {"name": "t1z"},
 "transform": [{"fold": ["RT", "T100", "T200"], "as": ["s", "y"]}],
 "mark": {"type": "line", "clip": true, "strokeWidth": 1},
 "encoding": {
  "x": {"field": "x", "type": "quantitative", "scale": {"domain": [1, 80], "nice": false, "zero": false}, "axis": {"values": [20, 40, 60, 80], "title": null}},
  "y": {"field": "y", "type": "quantitative", "scale": {"domain": [0, 100], "nice": false}, "axis": {"values": [0, 20, 40, 60, 80, 100], "title": "Intensity(a.u.)"}},
  "color": {"field": "s", "type": "nominal", "scale": {"domain": ["RT", "T100", "T200"], "range": ["#000000", "#0000ff", "#ff0000"]}, "legend": {"title": null, "labelExpr": "datum.label == 'T100' ? '100℃\u00a0\u00a0\u00a0\u00a0' : datum.label == 'T200' ? '200℃\u00a0\u00a0\u00a0\u00a0' : 'RT'"}}
 }
},
{
 "width": 356, "height": 258,
 "title": "5 g/L_TEST2",
 "data": {"name": "t2"},
 "transform": [{"fold": ["RT", "T100", "T200"], "as": ["s", "y"]}],
 "mark": {"type": "line", "clip": true, "strokeWidth": 1},
 "encoding": {
  "x": {"field": "x", "type": "quantitative", "scale": {"domain": [1, 80], "nice": false, "zero": false}, "axis": {"values": [20, 40, 60, 80], "title": "2Θ"}},
  "y": {"field": "y", "type": "quantitative", "scale": {"domain": [0, 2000], "nice": false}, "axis": {"values": [0, 500, 1000, 1500, 2000], "title": "Intensity(a.u.)"}},
  "color": {"field": "s", "type": "nominal", "scale": {"domain": ["RT", "T100", "T200"], "range": ["#000000", "#0000ff", "#ff0000"]}, "legend": {"title": null, "labelExpr": "datum.label == 'T100' ? '100℃\u00a0\u00a0\u00a0\u00a0' : datum.label == 'T200' ? '200℃\u00a0\u00a0\u00a0\u00a0' : 'RT'"}}
 }
},
{
 "width": 362, "height": 258,
 "title": "5 g/L_TEST2",
 "data": {"name": "t2z"},
 "transform": [{"fold": ["RT", "T100", "T200"], "as": ["s", "y"]}],
 "mark": {"type": "line", "clip": true, "strokeWidth": 1},
 "encoding": {
  "x": {"field": "x", "type": "quantitative", "scale": {"domain": [1, 80], "nice": false, "zero": false}, "axis": {"values": [20, 40, 60, 80], "title": "2Θ"}},
  "y": {"field": "y", "type": "quantitative", "scale": {"domain": [0, 100], "nice": false}, "axis": {"values": [0, 20, 40, 60, 80, 100], "title": "Intensity(a.u.)"}},
  "color": {"field": "s", "type": "nominal", "scale": {"domain": ["RT", "T100", "T200"], "range": ["#000000", "#0000ff", "#ff0000"]}, "legend": {"title": null, "labelExpr": "datum.label == 'T100' ? '100℃\u00a0\u00a0\u00a0\u00a0' : datum.label == 'T200' ? '200℃\u00a0\u00a0\u00a0\u00a0' : 'RT'"}}
 }
}
]
}
